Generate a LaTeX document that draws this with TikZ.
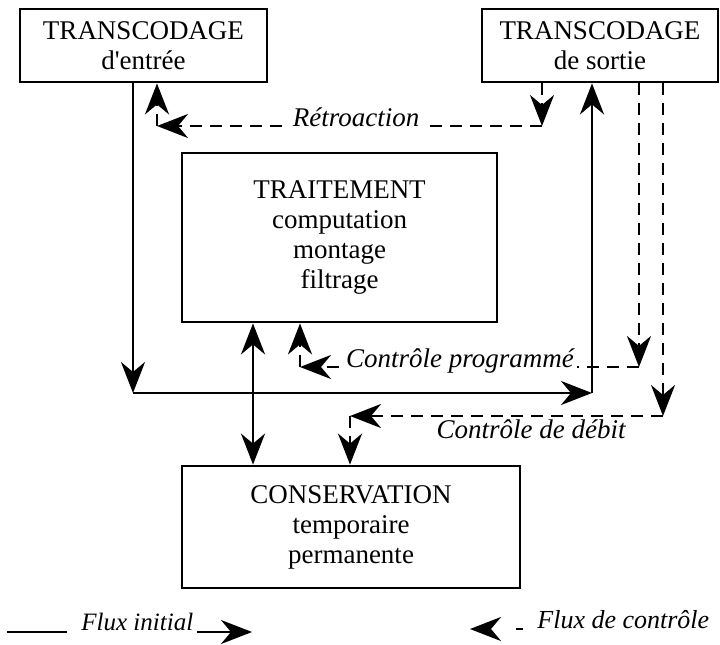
\documentclass[tikz,border=0pt]{standalone}
\usepackage{fontspec}
\setmainfont{Liberation Serif}
\usetikzlibrary{arrows.meta, positioning}

\begin{document}
\begin{tikzpicture}[x=1pt, y=-1pt, >={Stealth[length=31pt,width=24pt,inset=10pt]},
    line width=2.8pt, font=\fontsize{27}{30}\selectfont,
    box/.style={rectangle, draw, align=center, inner sep=0pt},
    flow/.style={->},
    ctrl/.style={->, dash pattern=on 12pt off 8pt},
    lbl/.style={font=\fontsize{27}{30}\selectfont\itshape, fill=white, inner sep=3pt}]

\useasboundingbox (0,0) rectangle (720,645);

% boites
\node[box, minimum width=247pt, minimum height=73pt] (entree)       at (143.5,45.5) {TRANSCODAGE\\d\textquotesingle entrée};
\node[box, minimum width=236pt, minimum height=73pt] (sortie)       at (600,45.5)   {TRANSCODAGE\\de sortie};
\node[box, minimum width=315pt, minimum height=169pt] (traitement)  at (339.5,237.5) {TRAITEMENT\\computation\\montage\\filtrage};
\node[box, minimum width=338pt, minimum height=122pt] (conservation) at (351,527)   {CONSERVATION\\temporaire\\permanente};

% coins
\coordinate (c1) at (133,393);
\coordinate (c2) at (592,393);
\coordinate (m)  at (253,400);
\coordinate (r1) at (542,126);
\coordinate (r2) at (157,126);
\coordinate (p1) at (639,367);
\coordinate (p2) at (300,367);
\coordinate (d1) at (663,416);
\coordinate (d2) at (350,416);

% flux initial
\draw[flow] (entree.south -| c1) -- (c1);
\draw[flow] (c1) -- (c2);
\draw[flow] (c2) -- (c2 |- sortie.south);
\draw[<->] (traitement.south -| m) -- (conservation.north -| m);

% flux de controle
\draw[ctrl] (sortie.south -| r1) -- (r1);
\draw[ctrl] (r1) -- node[lbl, anchor=base, pos=0.483] {Rétroaction} (r2);
\draw[ctrl] (r2) -- (r2 |- entree.south);

\draw[ctrl] (sortie.south -| p1) -- (p1);
\draw[ctrl] (p1) -- node[lbl, anchor=base, pos=0.528] {Contrôle programmé} (p2);
\draw[ctrl] (p2) -- (p2 |- traitement.south);

\draw[ctrl] (sortie.south -| d1) -- (d1);
\draw[ctrl] (d1) -- (d2);
\draw[ctrl] (d2) -- (d2 |- conservation.north);
\node[lbl, anchor=base, fill=none] (debit) at (531,438) {Contrôle de débit};

% legende
\coordinate (l1) at (7,632);
\coordinate (l2) at (67,632);
\coordinate (l3) at (197,632);
\coordinate (l4) at (252,632);
\draw (l1) -- (l2);
\node[lbl, anchor=base west, fill=none, inner sep=0pt, font=\fontsize{25}{30}\selectfont\itshape] (fi) at (80,630) {Flux initial};
\draw[flow] (l3) -- (l4);

\coordinate (k1) at (470,629);
\coordinate (k2) at (523,629);
\draw[->, dash pattern=on 7pt off 30pt] (k2) -- (k1);
\node[lbl, anchor=base west, fill=none, inner sep=0pt, font=\fontsize{26}{30}\selectfont\itshape] (fc) at (536,628) {Flux de contrôle};
\end{tikzpicture}
\end{document}
